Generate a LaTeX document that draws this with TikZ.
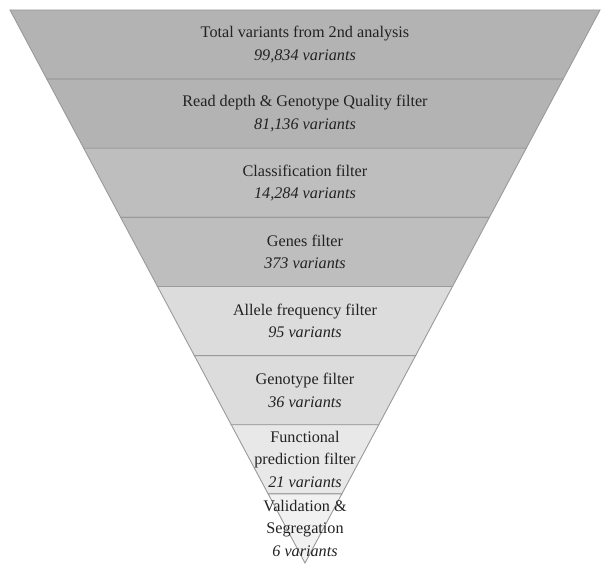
\documentclass[tikz,border=0pt]{standalone}
\usepackage{fontspec}
\setmainfont{Liberation Serif}
\definecolor{darkband}{HTML}{B3B3B3}
\definecolor{midband}{HTML}{BEBEBE}
\definecolor{lightband}{HTML}{DCDCDC}
\definecolor{paleband}{HTML}{E8E8E8}
\definecolor{whiteband}{HTML}{F1F1F1}
\definecolor{edgegray}{HTML}{9A9A9A}
\definecolor{textgray}{HTML}{222222}
\begin{document}
\begin{tikzpicture}[
    band/.style={draw=edgegray, line width=0.9pt, line join=miter},
    step label/.style={align=center, text=textgray, inner sep=0pt,
      font=\fontsize{16.2}{22.5}\selectfont}
  ]

  \newcommand\X{36.875pt};
  \newcommand\Y{69.125pt};

  \useasboundingbox (-305pt, -12pt) rectangle (306pt, 563pt);

  %% bands, top to bottom
  \draw[band, fill=darkband]  (-8*\X, 8*\Y) -- (8*\X, 8*\Y) -- (7*\X, 7*\Y) -- (-7*\X, 7*\Y) -- cycle;
  \draw[band, fill=darkband]  (-7*\X, 7*\Y) -- (7*\X, 7*\Y) -- (6*\X, 6*\Y) -- (-6*\X, 6*\Y) -- cycle;
  \draw[band, fill=midband]   (-6*\X, 6*\Y) -- (6*\X, 6*\Y) -- (5*\X, 5*\Y) -- (-5*\X, 5*\Y) -- cycle;
  \draw[band, fill=midband]   (-5*\X, 5*\Y) -- (5*\X, 5*\Y) -- (4*\X, 4*\Y) -- (-4*\X, 4*\Y) -- cycle;
  \draw[band, fill=lightband] (-4*\X, 4*\Y) -- (4*\X, 4*\Y) -- (3*\X, 3*\Y) -- (-3*\X, 3*\Y) -- cycle;
  \draw[band, fill=lightband] (-3*\X, 3*\Y) -- (3*\X, 3*\Y) -- (2*\X, 2*\Y) -- (-2*\X, 2*\Y) -- cycle;
  \draw[band, fill=paleband]  (-2*\X, 2*\Y) -- (2*\X, 2*\Y) -- (1*\X, 1*\Y) -- (-1*\X, 1*\Y) -- cycle;
  \draw[band, fill=whiteband] (-1*\X, 1*\Y) -- (1*\X, 1*\Y) -- (0, 0) -- cycle;

  %% labels
  \node[step label] (total)      at (0, 7.5*\Y) {Total variants from 2nd analysis\\\textit{99,834 variants}};
  \node[step label] (depth)      at (0, 6.5*\Y) {Read depth \& Genotype Quality filter\\\textit{81,136 variants}};
  \node[step label] (classif)    at (0, 5.5*\Y) {Classification filter\\\textit{14,284 variants}};
  \node[step label] (genes)      at (0, 4.5*\Y) {Genes filter\\\textit{373 variants}};
  \node[step label] (allele)     at (0, 3.5*\Y) {Allele frequency filter\\\textit{95 variants}};
  \node[step label] (genotype)   at (0, 2.5*\Y) {Genotype filter\\\textit{36 variants}};
  \node[step label] (functional) at (0, 1.5*\Y) {Functional\\prediction filter\\\textit{21 variants}};
  \node[step label] (validation) at (0, 0.5*\Y) {Validation \&\\Segregation\\\textit{6 variants}};
\end{tikzpicture}
\end{document}
